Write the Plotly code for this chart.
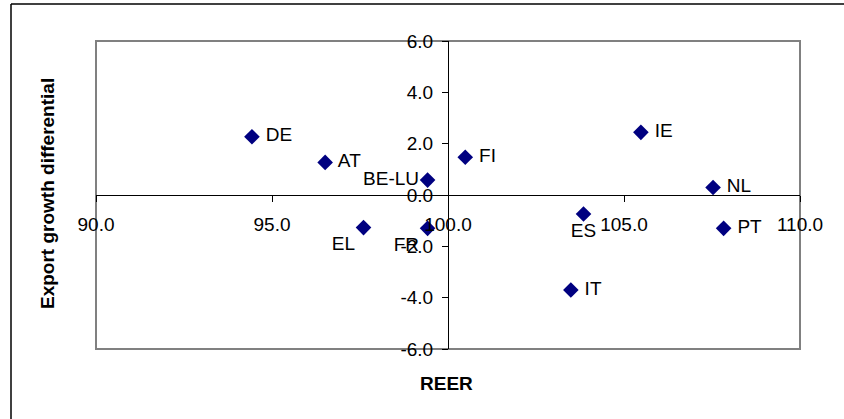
import plotly.graph_objects as go

countries = ["DE", "AT", "BE-LU", "FI", "IE", "NL", "ES", "PT", "IT", "EL", "FR"]
reer = [94.43, 96.51, 99.42, 100.49, 105.48, 107.53, 103.85, 107.83, 103.49, 97.60, 99.42]
export_diff = [2.27, 1.27, 0.58, 1.47, 2.44, 0.29, -0.74, -1.30, -3.70, -1.27, -1.30]
label_pos = ["middle right", "middle right", "middle left", "middle right", "middle right",
             "middle right", "bottom center", "middle right", "middle right", "bottom left", "bottom left"]

x_ticks = [90, 95, 100, 105, 110]
y_ticks = [-6, -4, -2, 0, 2, 4, 6]

W, H = 844, 419
L, R, T, B = 96, 44, 41, 70
pw, ph = W - L - R, H - T - B

def px_x(p):
    return (p - L) / pw

def px_y(p):
    return (H - B - p) / ph

font = "Arial, Liberation Sans, sans-serif"

fig = go.Figure(go.Scatter(
    x=reer, y=export_diff, mode="markers+text",
    text=[" " + c + " " if "right" in p else c for c, p in zip(countries, label_pos)],
    textposition=label_pos,
    textfont=dict(family=font, size=19, color="black"),
    marker=dict(symbol="diamond", size=12, color="#000080", line=dict(width=0)),
    cliponaxis=False,
    hoverinfo="skip",
))

fig.update_layout(
    width=W, height=H,
    margin=dict(l=L, r=R, t=T, b=B),
    paper_bgcolor="white", plot_bgcolor="white",
    showlegend=False,
    font=dict(family=font, size=19, color="black"),
    xaxis=dict(range=[90, 110], tickvals=x_ticks, ticktext=[f"{v:.1f}" for v in x_ticks],
               showgrid=False, zeroline=False, showline=True, linecolor="black", linewidth=1,
               ticks="outside", ticklen=6, tickcolor="black", ticklabelstandoff=6,
               anchor="free", position=0.5, tickfont=dict(size=19)),
    yaxis=dict(range=[-6, 6], tickvals=y_ticks, ticktext=[f"{v:.1f}" for v in y_ticks],
               showgrid=False, zeroline=False, showline=True, linecolor="black", linewidth=1,
               ticks="outside", ticklen=6, tickcolor="black", ticklabelstandoff=5,
               anchor="free", position=0.5, tickfont=dict(size=19)),
    shapes=[
        dict(type="rect", xref="paper", yref="paper", x0=0, x1=1, y0=0, y1=1,
             line=dict(color="#808080", width=2), layer="below"),
        dict(type="line", xref="paper", yref="paper", x0=px_x(11), x1=px_x(W + 20),
             y0=px_y(4), y1=px_y(4), line=dict(color="black", width=1.5)),
        dict(type="line", xref="paper", yref="paper", x0=px_x(11), x1=px_x(11),
             y0=px_y(4), y1=px_y(H + 20), line=dict(color="black", width=1.5)),
    ],
    annotations=[
        dict(text="<b>REER</b>", xref="paper", yref="paper", x=px_x(446), y=px_y(383),
             showarrow=False, font=dict(size=19, family=font), xanchor="center", yanchor="middle"),
        dict(text="<b>Export growth differential</b>", xref="paper", yref="paper",
             x=px_x(47), y=px_y(194), textangle=-90,
             showarrow=False, font=dict(size=19, family=font), xanchor="center", yanchor="middle"),
    ],
)

fig.write_html("out.html", config={"displayModeBar": False},
               post_script="document.body.style.margin='0';document.body.style.overflow='hidden';")
